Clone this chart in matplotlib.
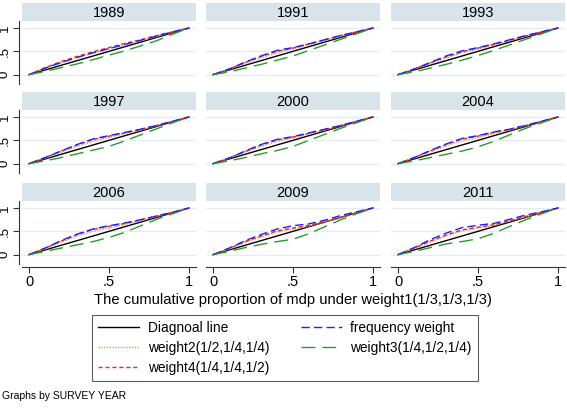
import matplotlib
matplotlib.use("Agg")
import matplotlib.pyplot as plt
from matplotlib.lines import Line2D

plt.rcParams['font.family'] = ['Liberation Sans', 'DejaVu Sans']

years = ["1989", "1991", "1993", "1997", "2000", "2004", "2006", "2009", "2011"]
x = [0, .1, .2, .3, .4, .5, .6, .7, .8, .9, 1]

freq = {
    "1989": [0, .14, .26, .37, .47, .56, .65, .74, .83, .92, 1],
    "1991": [0, .12, .27, .40, .52, .58, .66, .75, .84, .92, 1],
    "1993": [0, .12, .26, .40, .51, .58, .66, .75, .84, .92, 1],
    "1997": [0, .13, .27, .41, .53, .60, .67, .74, .82, .91, 1],
    "2000": [0, .12, .27, .41, .52, .58, .66, .74, .82, .91, 1],
    "2004": [0, .13, .28, .42, .54, .60, .68, .74, .82, .91, 1],
    "2006": [0, .14, .30, .44, .55, .62, .68, .75, .83, .91, 1],
    "2009": [0, .14, .30, .43, .55, .62, .66, .74, .84, .92, 1],
    "2011": [0, .15, .32, .46, .58, .63, .67, .76, .85, .92, 1],
}
w2 = {
    "1989": [0, .13, .25, .36, .46, .55, .64, .73, .82, .91, 1],
    "1991": [0, .11, .24, .36, .47, .55, .64, .73, .82, .91, 1],
    "1993": [0, .11, .24, .36, .47, .55, .64, .73, .82, .91, 1],
    "1997": [0, .12, .25, .37, .48, .56, .64, .72, .81, .90, 1],
    "2000": [0, .11, .25, .37, .48, .55, .64, .72, .81, .90, 1],
    "2004": [0, .12, .25, .38, .49, .56, .65, .72, .81, .90, 1],
    "2006": [0, .12, .27, .40, .50, .57, .65, .73, .82, .90, 1],
    "2009": [0, .12, .26, .38, .49, .55, .61, .70, .80, .90, 1],
    "2011": [0, .13, .27, .40, .51, .57, .63, .72, .81, .90, 1],
}
w4 = {
    "1989": [0, .15, .28, .39, .49, .58, .67, .75, .84, .92, 1],
    "1991": [0, .12, .26, .39, .50, .57, .66, .75, .84, .92, 1],
    "1993": [0, .12, .25, .38, .49, .57, .65, .74, .83, .92, 1],
    "1997": [0, .13, .27, .40, .52, .59, .66, .74, .82, .91, 1],
    "2000": [0, .12, .26, .40, .51, .57, .65, .73, .82, .91, 1],
    "2004": [0, .13, .27, .41, .53, .59, .67, .74, .82, .91, 1],
    "2006": [0, .14, .29, .43, .54, .61, .67, .75, .83, .91, 1],
    "2009": [0, .13, .28, .40, .51, .57, .63, .71, .80, .90, 1],
    "2011": [0, .14, .29, .42, .53, .59, .64, .73, .82, .91, 1],
}
w3 = {
    "1989": [0, .07, .15, .23, .32, .42, .51, .62, .73, .87, 1],
    "1991": [0, .06, .14, .22, .31, .40, .52, .64, .76, .88, 1],
    "1993": [0, .06, .14, .22, .31, .41, .52, .64, .76, .88, 1],
    "1997": [0, .06, .13, .21, .29, .37, .49, .62, .75, .88, 1],
    "2000": [0, .06, .13, .21, .28, .37, .50, .63, .76, .88, 1],
    "2004": [0, .06, .13, .20, .27, .36, .48, .62, .76, .88, 1],
    "2006": [0, .07, .14, .21, .28, .37, .48, .62, .76, .88, 1],
    "2009": [0, .07, .15, .22, .28, .33, .45, .60, .75, .88, 1],
    "2011": [0, .07, .15, .23, .28, .34, .46, .61, .75, .88, 1],
}
xticks = [0, .5, 1]
ticklabels = ["0", ".5", "1"]

W, H = 567, 409
fig = plt.figure(figsize=(W / 100, H / 100), dpi=100)
fig.patch.set_facecolor("white")

col_left = [22, 206, 391]
pw = 174
row_top = [3, 92, 183]
sh = 18
ph = 63
strip_col = "#d8e3ea"
grid_col = "#e4ecf0"

s_diag = dict(color="black", lw=1.0, ls="-")
s_w2 = dict(color="#c8a06a", lw=1.0, ls=(0, (1, 1)))
s_w4 = dict(color="#ff2020", lw=1.0, ls=(0, (3, 2)))
s_freq = dict(color="#2020ff", lw=1.0, ls=(0, (6, 3)))
s_w3 = dict(color="#2a9a2a", lw=1.0, ls=(0, (10, 5)))

def frac(l, t, w, h):
    return [l / W, 1 - (t + h) / H, w / W, h / H]

for i, yr in enumerate(years):
    r, c = divmod(i, 3)
    l = col_left[c]
    t = row_top[r]
    sax = fig.add_axes(frac(l, t, pw, sh))
    sax.set_facecolor(strip_col)
    sax.set_xticks([]); sax.set_yticks([])
    for sp in sax.spines.values():
        sp.set_visible(False)
    sax.text(0.5, 0.45, yr, ha="center", va="center", fontsize=10.5, transform=sax.transAxes)

    ax = fig.add_axes(frac(l, t + sh, pw, ph))
    ax.set_xlim(-0.044, 1.044)
    ax.set_ylim(-0.2, 1.15)
    for yv in [0, .5, 1]:
        ax.axhline(yv, color=grid_col, lw=1.0, zorder=0)
    ax.plot(x, x, **s_diag)
    ax.plot(x, w2[yr], **s_w2)
    ax.plot(x, w4[yr], **s_w4)
    ax.plot(x, freq[yr], **s_freq)
    ax.plot(x, w3[yr], **s_w3)
    for sp in ["top", "right"]:
        ax.spines[sp].set_visible(False)
    ax.spines["left"].set_visible(c == 0)
    ax.spines["bottom"].set_visible(r == 2)
    ax.spines["left"].set_color("#333333")
    ax.spines["bottom"].set_color("#333333")
    ax.spines["left"].set_position(("outward", 2))
    ax.spines["bottom"].set_position(("outward", 2))
    if c == 0:
        ax.set_yticks([0, .5, 1])
        ax.set_yticklabels(ticklabels, rotation=90, va="center", fontsize=9.5)
        ax.tick_params(axis="y", length=4, width=0.8, pad=2, color="#333333")
    else:
        ax.set_yticks([])
    if r == 2:
        ax.set_xticks(xticks)
        ax.set_xticklabels(ticklabels, fontsize=10.5)
        ax.tick_params(axis="x", length=4, width=0.8, pad=2, color="#333333")
    else:
        ax.set_xticks([])

fig.text(293 / W, 1 - 300 / H, "The cumulative proportion of mdp under weight1(1/3,1/3,1/3)",
         ha="center", va="center", fontsize=10.6)

handles = [Line2D([], [], **s_diag), Line2D([], [], **s_w2), Line2D([], [], **s_w4),
           Line2D([], [], **s_freq), Line2D([], [], **s_w3)]
labels = ["Diagnoal line", "weight2(1/2,1/4,1/4)", "weight4(1/4,1/4,1/2)",
          "frequency weight", "weight3(1/4,1/2,1/4)"]
leg = fig.legend(handles, labels, ncol=2, loc="upper left",
                 bbox_to_anchor=(92 / W, 1 - 315 / H), borderaxespad=0,
                 frameon=True, fancybox=False, edgecolor="#333333",
                 fontsize=9.9, handlelength=3.0, handletextpad=0.6,
                 columnspacing=2.3, labelspacing=0.42, borderpad=0.45)
leg.get_frame().set_linewidth(0.8)

fig.text(2 / W, 1 - 396 / H, "Graphs by SURVEY YEAR", ha="left", va="center", fontsize=7.5)

fig.savefig("out.png", dpi=100, facecolor="white")
